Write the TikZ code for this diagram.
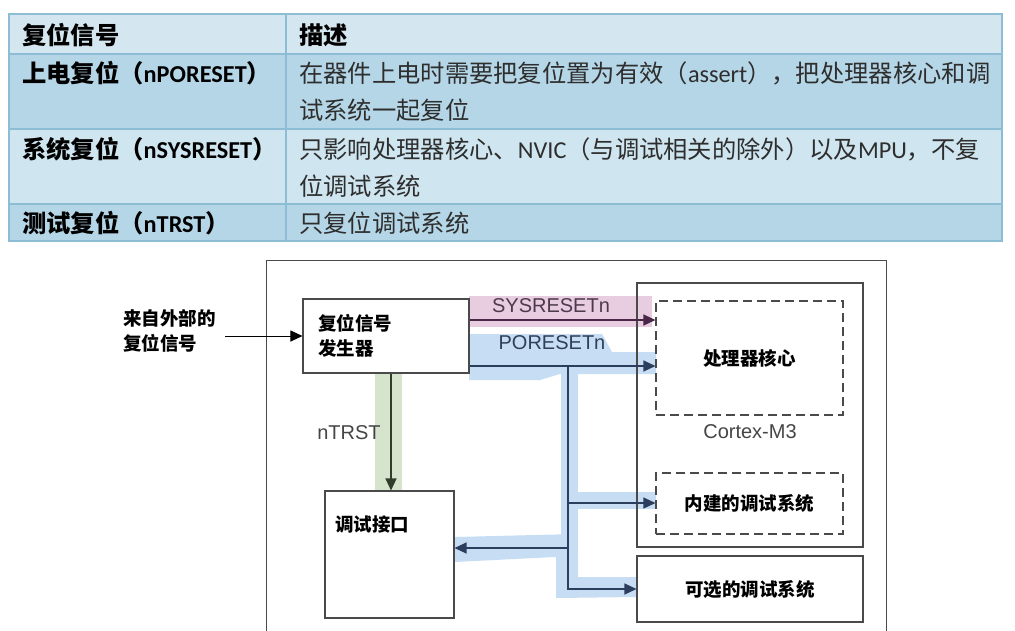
\documentclass[tikz,border=0pt]{standalone}
\usepackage{fontspec}
\setmainfont{Carlito}
\newfontfamily\cjk{Noto Sans CJK SC}
\newfontfamily\arial{Liberation Sans}
\usetikzlibrary{arrows.meta}

\definecolor{tabhead}{HTML}{D4E7F0}
\definecolor{tabdark}{HTML}{B5D6E7}
\definecolor{tablight}{HTML}{CFE5EF}
\definecolor{tabrule}{HTML}{8CBDD4}
\definecolor{sysband}{HTML}{E8CCE0}
\definecolor{porband}{HTML}{C7DDF3}
\definecolor{trstband}{HTML}{D6E4CD}
\definecolor{sysline}{HTML}{4B2747}
\definecolor{porline}{HTML}{2C3E5E}
\definecolor{trstline}{HTML}{2F3D2B}
\definecolor{boxline}{HTML}{4A4A4A}
\definecolor{lbltext}{HTML}{454545}
\definecolor{syslbltext}{HTML}{4E3A4E}
\definecolor{porlbltext}{HTML}{30405A}
\definecolor{desctext}{HTML}{2E2E2E}

\tikzset{
  headtxt/.style={anchor=west,inner sep=0pt,font=\bfseries\fontsize{24.3}{37}\selectfont},
  sigtxt/.style={anchor=west,inner sep=0pt,font=\bfseries\fontsize{24.3}{37}\selectfont},
  desctxt/.style={anchor=west,inner sep=0pt,align=left,text=desctext,font=\fontsize{24.3}{37}\selectfont},
  box/.style={draw=boxline,line width=1.1pt,inner sep=0pt},
  dbox/.style={box,dash pattern=on 9pt off 5pt},
  cntxt/.style={font=\cjk\bfseries\fontsize{18.5}{25}\selectfont},
  lbl/.style={text=lbltext,inner sep=0pt,font=\arial\fontsize{20}{24}\selectfont},
  tip/.style={-{Triangle[length=12pt,width=11pt]}},
  sysarrow/.style={tip,draw=sysline,line width=1.2pt},
  porarrow/.style={tip,draw=porline,line width=1.2pt},
  trstarrow/.style={tip,draw=trstline,line width=1.2pt},
  extarrow/.style={tip,draw=black,line width=1pt}
}

\begin{document}
\begin{tikzpicture}[x=1pt,y=-1pt]
  \useasboundingbox (0,0) rectangle (1015,630);
  \clip (0,0) rectangle (1015,630);

  % table of reset signals
  \fill[tabhead] (9,14) rectangle (1002,54);
  \fill[tabdark] (9,54) rectangle (1002,129);
  \fill[tablight] (9,129) rectangle (1002,204);
  \fill[tabdark] (9,204) rectangle (1002,241);
  \draw[tabrule,line width=2.5pt] (9,14) rectangle (1002,241);
  \draw[tabrule,line width=2.5pt] (9,54) -- (1002,54);
  \draw[tabrule,line width=2.5pt] (9,129) -- (1002,129);
  \draw[tabrule,line width=2.5pt] (9,204) -- (1002,204);
  \draw[tabrule,line width=2.5pt] (286,14) -- (286,241);

  \node[headtxt] (hsig) at (22,35) {\cjk 复位信号};
  \node[headtxt] (hdesc) at (299,35) {\cjk 描述};
  \node[sigtxt] (sigpor) at (22,73) {{\cjk 上电复位（}nPORESET{\cjk ）}};
  \node[desctxt] (descpor) at (299,91.5) {{\cjk 在器件上电时需要把复位置为有效（}assert{\cjk ），把处理器核心和调}\\{\cjk 试系统一起复位}};
  \node[sigtxt] (sigsys) at (22,149) {{\cjk 系统复位（}nSYSRESET{\cjk ）}};
  \node[desctxt] (descsys) at (299,167.5) {{\cjk 只影响处理器核心、}NVIC{\cjk （与调试相关的除外）以及}MPU{\cjk ，不复}\\{\cjk 位调试系统}};
  \node[sigtxt] (sigtrst) at (22,223) {{\cjk 测试复位（}nTRST{\cjk ）}};
  \node[desctxt] (desctrst) at (299,223) {\cjk 只复位调试系统};

  % diagram frame
  \draw[draw=boxline,line width=1pt] (266,640) -- (266,260) -- (886,260) -- (886,640);

  % highlight bands
  \fill[sysband] (469,296) rectangle (652,327);
  \fill[porband] (469,334) -- (602,334) -- (612,352) -- (656,352) -- (656,374)
    -- (560,374) -- (540,380) -- (469,380) -- cycle;
  \fill[porband] (561,370) rectangle (578,560);
  \fill[porband] (556,553) -- (578,553) -- (578,577) -- (637,577) -- (637,597) -- (556,598) -- cycle;
  \fill[porband] (575,492) rectangle (656,509);
  \fill[porband] (455,537) -- (575,534) -- (575,556) -- (455,562) -- cycle;
  \fill[trstband] (375,374) rectangle (402,491);

  % blocks
  \node[cntxt,anchor=west,align=left,inner sep=0pt] (ext) at (123,331) {来自外部的\\复位信号};
  \node[box,cntxt,minimum width=166pt,minimum height=74pt,text width=136pt,inner xsep=15pt,align=left] (gen) at (386,336) {复位信号\\发生器};
  \node[box,minimum width=226pt,minimum height=264pt] (m3) at (750,415) {};
  \node[dbox,cntxt,minimum width=187pt,minimum height=114pt] (core) at (749.5,358) {处理器核心};
  \node[lbl] (m3name) at (750,432) {Cortex-M3};
  \node[dbox,cntxt,minimum width=187pt,minimum height=61pt] (ondbg) at (749.5,503.5) {内建的调试系统};
  \node[box,cntxt,minimum width=226pt,minimum height=66pt] (optdbg) at (750,589) {可选的调试系统};
  \node[box,minimum width=129pt,minimum height=127pt] (dbg) at (389.5,554.5) {};
  \node[cntxt,anchor=west,inner sep=0pt] (dbgname) at (335,524) {调试接口};

  % signal labels
  \node[lbl,text=syslbltext] (syslbl) at (551,306) {SYSRESETn};
  \node[lbl,text=porlbltext] (porlbl) at (552,343) {PORESETn};
  \node[lbl] (trstlbl) at (349,433) {nTRST};

  % signal wires
  \coordinate (extin) at (225,336);
  \coordinate (sysy) at (0,320);
  \coordinate (pory) at (0,366);
  \coordinate (trstx) at (391,0);
  \coordinate (split) at (568,366);
  \coordinate (tapa) at (568,503);
  \coordinate (tapb) at (568,548);
  \coordinate (tapc) at (568,589);

  \draw[extarrow] (extin) -- (gen.west);
  \draw[sysarrow] (gen.east |- sysy) -- (core.west |- sysy);
  \draw[porarrow] (gen.east |- pory) -- (core.west |- pory);
  \draw[porarrow] (split) -- (tapc) -- (optdbg.west |- tapc);
  \draw[porarrow] (tapa) -- (ondbg.west |- tapa);
  \draw[porarrow] (tapb) -- (dbg.east |- tapb);
  \draw[trstarrow] (gen.south -| trstx) -- (dbg.north -| trstx);
\end{tikzpicture}
\end{document}
